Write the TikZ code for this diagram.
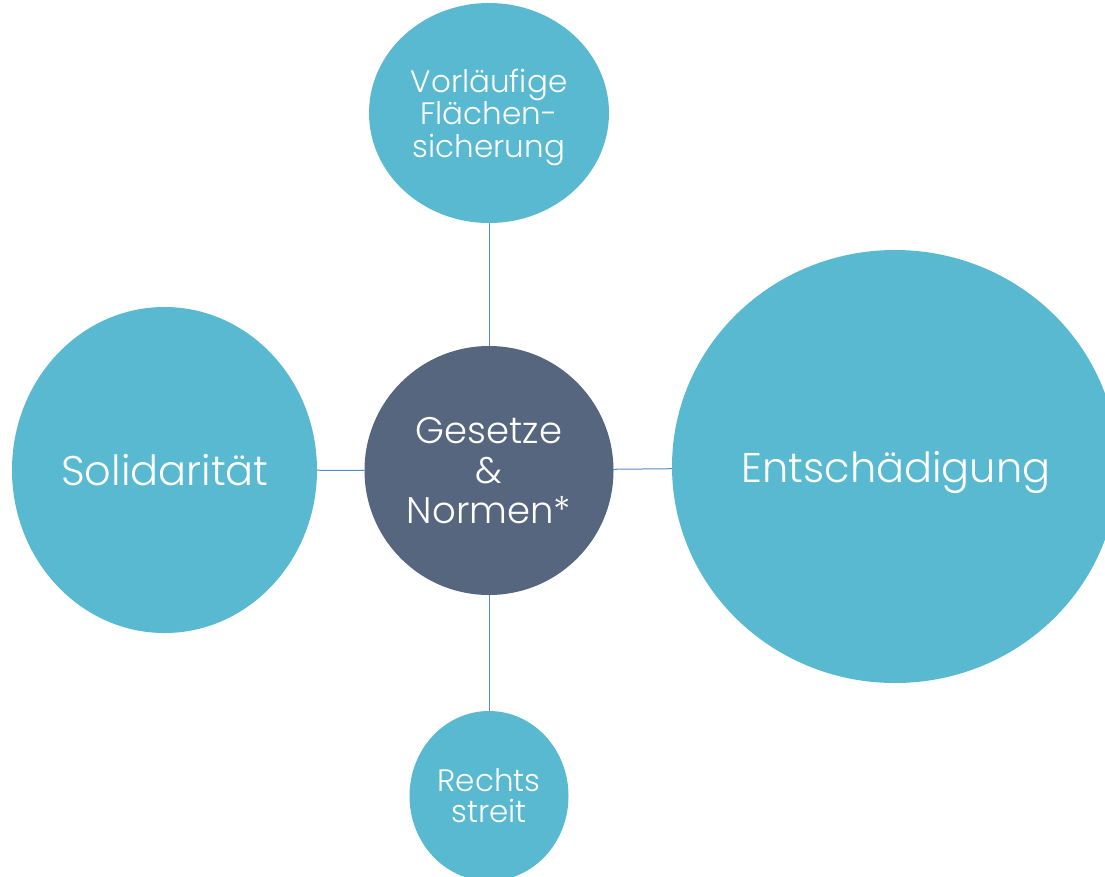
\documentclass[tikz,border=0pt]{standalone}
\usepackage{fontspec}
\setmainfont{Poppins}[UprightFont=* Light]
\usetikzlibrary{shapes.geometric}
\definecolor{bub}{HTML}{58B9D0}
\definecolor{hub}{HTML}{56667F}
\definecolor{lnk}{HTML}{5A8BC0}
\begin{document}
\begin{tikzpicture}[x=1pt,y=-1pt,
  bubble/.style={ellipse, fill=bub, inner sep=0pt, outer sep=0pt},
  txt/.style={text=white, align=center, inner sep=0pt},
  link/.style={draw=lnk, line width=1pt}]
\useasboundingbox (0,0) rectangle (1105,876);
\clip (0,0) rectangle (1105,876);
\node[bubble, minimum width=240pt, minimum height=220pt] (top) at (489,113) {};
\node[bubble, fill=hub, minimum width=249pt, minimum height=249pt] (hub) at (489,470.5) {};
\node[bubble, minimum width=305pt, minimum height=326pt] (left) at (164.5,470) {};
\node[bubble, minimum width=446pt, minimum height=433pt] (right) at (895,466.5) {};
\node[bubble, minimum width=159pt, minimum height=170pt] (bottom) at (489,796) {};
\node[txt, font=\fontsize{31}{32.5}\selectfont] (toptxt) at (489,117) {Vorläufige\\Flächen-\\sicherung};
\node[txt, font=\fontsize{37}{40}\selectfont] (hubtxt) at (hub.center) {Gesetze\\\&\\Normen*};
\node[txt, anchor=base, font=\fontsize{41.5}{44}\selectfont] (lefttxt) at (165,485) {Solidarität};
\node[txt, anchor=base, font=\fontsize{41.5}{44}\selectfont] (righttxt) at (896,482) {Entschädigung};
\node[txt, font=\fontsize{31}{31}\selectfont] (bottomtxt) at (bottom.center) {Rechts\\streit};
\draw[link] (top) -- (hub);
\draw[link] (hub) -- (bottom);
\draw[link] (left) -- (hub);
\draw[link] (hub) -- (right);
\end{tikzpicture}
\end{document}
